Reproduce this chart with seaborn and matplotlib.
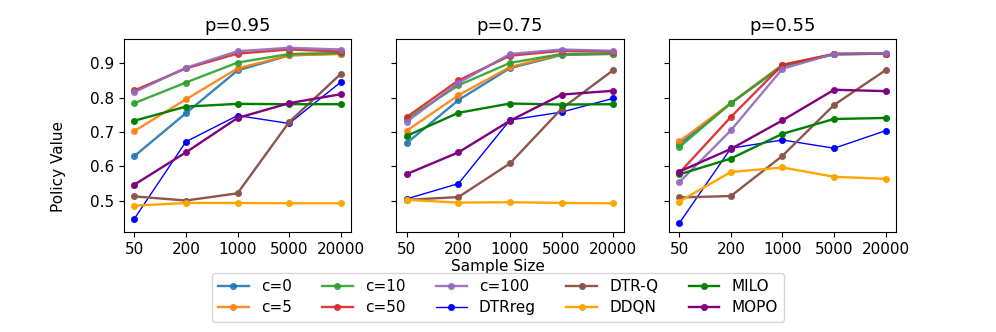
import numpy as np
import pandas as pd
import matplotlib
matplotlib.use("Agg")
import matplotlib.pyplot as plt
import seaborn as sns

sizes = ["50", "200", "1000", "5000", "20000"]
panels = ["p=0.95", "p=0.75", "p=0.55"]

# values per method: one list per panel (p=0.95, p=0.75, p=0.55)
c0 = [[0.630, 0.755, 0.879, 0.923, 0.928],
      [0.668, 0.793, 0.886, 0.924, 0.927],
      [0.665, 0.784, 0.892, 0.926, 0.928]]
c5 = [[0.703, 0.795, 0.885, 0.923, 0.927],
      [0.704, 0.807, 0.889, 0.926, 0.928],
      [0.673, 0.784, 0.896, 0.927, 0.928]]
c10 = [[0.784, 0.844, 0.902, 0.927, 0.930],
       [0.738, 0.836, 0.901, 0.927, 0.928],
       [0.656, 0.784, 0.894, 0.926, 0.928]]
c50 = [[0.821, 0.885, 0.928, 0.940, 0.934],
       [0.744, 0.850, 0.922, 0.936, 0.934],
       [0.581, 0.744, 0.895, 0.927, 0.928]]
c100 = [[0.816, 0.887, 0.935, 0.945, 0.940],
        [0.730, 0.843, 0.927, 0.940, 0.936],
        [0.554, 0.705, 0.884, 0.928, 0.929]]
dtrreg = [[0.448, 0.672, 0.748, 0.725, 0.845],
          [0.506, 0.550, 0.735, 0.758, 0.798],
          [0.435, 0.653, 0.677, 0.653, 0.704]]
dtrq = [[0.513, 0.501, 0.522, 0.729, 0.869],
        [0.503, 0.511, 0.609, 0.768, 0.880],
        [0.510, 0.514, 0.631, 0.779, 0.880]]
ddqn = [[0.486, 0.494, 0.494, 0.493, 0.493],
        [0.503, 0.495, 0.496, 0.494, 0.493],
        [0.498, 0.584, 0.597, 0.570, 0.564]]
milo = [[0.733, 0.774, 0.782, 0.781, 0.781],
        [0.689, 0.756, 0.783, 0.780, 0.781],
        [0.577, 0.623, 0.695, 0.738, 0.741]]
mopo = [[0.547, 0.641, 0.741, 0.784, 0.810],
        [0.578, 0.641, 0.733, 0.809, 0.820],
        [0.585, 0.651, 0.734, 0.823, 0.819]]

methods = ["c=0", "c=5", "c=10", "c=50", "c=100", "DTRreg", "DTR-Q", "DDQN", "MILO", "MOPO"]
series = [c0, c5, c10, c50, c100, dtrreg, dtrq, ddqn, milo, mopo]
colors = ["tab:blue", "tab:orange", "tab:green", "tab:red", "tab:purple",
          "blue", "tab:brown", "orange", "green", "purple"]
widths = [1.7, 1.7, 1.7, 1.7, 1.7, 1.0, 1.7, 1.7, 1.7, 1.7]
alphas = [0.9, 0.9, 0.9, 0.9, 0.9, 1, 1, 1, 1, 1]

fig, axes = plt.subplots(1, 3, figsize=(9.96, 3.32), dpi=100, sharey=True)
fig.subplots_adjust(left=0.1245, right=0.8996, top=0.8825, bottom=0.3012, wspace=0.2)

for pi, ax in enumerate(axes):
    for name, vals, col, lw, al in zip(methods, series, colors, widths, alphas):
        sns.lineplot(x=sizes, y=vals[pi], ax=ax, color=col, linewidth=lw, alpha=al,
                     marker="o", markersize=4.5, markeredgecolor=col, markeredgewidth=0.5,
                     label=name, sort=False)
    ax.set_title(panels[pi], fontsize=13)
    ax.set_xlabel("")
    ax.set_ylabel("")
    ax.tick_params(labelsize=11)
    leg = ax.get_legend()
    if leg is not None:
        leg.remove()

axes[0].set_yticks([0.5, 0.6, 0.7, 0.8, 0.9])
axes[0].set_ylim(0.4095, 0.9705)

handles, labels = axes[0].get_legend_handles_labels()
fig.legend(handles, labels, loc="upper center", bbox_to_anchor=(0.5, 0.200),
           ncol=5, fontsize=11, frameon=True, handlelength=2.0,
           columnspacing=2.0, labelspacing=0.4, borderpad=0.4)
fig.text(0.5, 1 - 267 / 332, "Sample Size", ha="center", va="center", fontsize=11)
fig.text(58 / 996, 0.5, "Policy Value", ha="center", va="center", rotation=90, fontsize=11)

fig.savefig("out.png", dpi=100)
